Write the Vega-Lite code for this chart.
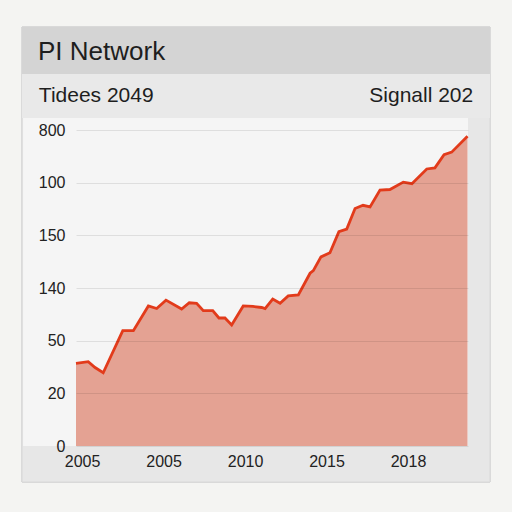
{
  "$schema": "https://vega.github.io/schema/vega-lite/v6.json",
  "width": 392,
  "height": 316,
  "autosize": {"type": "none"},
  "padding": {"left": 76, "top": 130, "right": 44, "bottom": 66},
  "background": "#f4f4f2",
  "config": {
    "view": {"stroke": null},
    "font": "Liberation Sans",
    "axis": {"labelFont": "Liberation Sans"}
  },
  "data": {
    "values": [
      {"year": 1999.63, "value": 1.57},
      {"year": 2000.38, "value": 1.60},
      {"year": 2000.80, "value": 1.49},
      {"year": 2001.30, "value": 1.39},
      {"year": 2002.50, "value": 2.19},
      {"year": 2003.15, "value": 2.19},
      {"year": 2004.07, "value": 2.66},
      {"year": 2004.58, "value": 2.61},
      {"year": 2005.15, "value": 2.77},
      {"year": 2006.11, "value": 2.60},
      {"year": 2006.58, "value": 2.72},
      {"year": 2007.03, "value": 2.71},
      {"year": 2007.44, "value": 2.57},
      {"year": 2008.02, "value": 2.57},
      {"year": 2008.40, "value": 2.43},
      {"year": 2008.77, "value": 2.43},
      {"year": 2009.18, "value": 2.30},
      {"year": 2009.89, "value": 2.66},
      {"year": 2010.49, "value": 2.65},
      {"year": 2011.02, "value": 2.63},
      {"year": 2011.23, "value": 2.61},
      {"year": 2011.70, "value": 2.79},
      {"year": 2012.15, "value": 2.71},
      {"year": 2012.65, "value": 2.85},
      {"year": 2013.27, "value": 2.87},
      {"year": 2013.99, "value": 3.28},
      {"year": 2014.19, "value": 3.33},
      {"year": 2014.66, "value": 3.59},
      {"year": 2015.21, "value": 3.67},
      {"year": 2015.76, "value": 4.07},
      {"year": 2016.24, "value": 4.12},
      {"year": 2016.75, "value": 4.51},
      {"year": 2017.24, "value": 4.57},
      {"year": 2017.67, "value": 4.54},
      {"year": 2018.28, "value": 4.86},
      {"year": 2018.89, "value": 4.87},
      {"year": 2019.71, "value": 5.01},
      {"year": 2020.24, "value": 4.98},
      {"year": 2021.15, "value": 5.26},
      {"year": 2021.65, "value": 5.28},
      {"year": 2022.21, "value": 5.53},
      {"year": 2022.68, "value": 5.58},
      {"year": 2023.65, "value": 5.88}
    ]
  },
  "layer": [
    {
      "mark": {"type": "rect", "fill": "#e7e7e7", "stroke": "#d9d9d9", "strokeWidth": 1, "clip": false},
      "encoding": {
        "x": {"datum": 1996.32, "type": "quantitative", "title": null},
        "x2": {"datum": 2025.03},
        "y": {"datum": -0.683, "type": "quantitative", "title": null},
        "y2": {"datum": 7.955}
      }
    },
    {
      "mark": {"type": "rect", "fill": "#f5f5f5", "clip": false},
      "encoding": {
        "x": {"datum": 1996.4, "type": "quantitative", "title": null},
        "x2": {"datum": 2023.68},
        "y": {"datum": 0, "type": "quantitative", "title": null},
        "y2": {"datum": 6.227}
      }
    },
    {
      "mark": {"type": "rect", "fill": "#e9e9e9", "clip": false},
      "encoding": {
        "x": {"datum": 1996.32, "type": "quantitative", "title": null},
        "x2": {"datum": 2025.03},
        "y": {"datum": 6.227, "type": "quantitative", "title": null},
        "y2": {"datum": 7.063}
      }
    },
    {
      "mark": {"type": "rect", "fill": "#d4d4d4", "clip": false},
      "encoding": {
        "x": {"datum": 1996.32, "type": "quantitative", "title": null},
        "x2": {"datum": 2025.03},
        "y": {"datum": 7.063, "type": "quantitative", "title": null},
        "y2": {"datum": 7.955}
      }
    },
    {
      "mark": {
        "type": "area",
        "color": "#e4a293",
        "opacity": 1,
        "line": {"color": "#e23b1b", "strokeWidth": 2.8, "strokeJoin": "miter"}
      },
      "encoding": {
        "x": {
          "field": "year",
          "type": "quantitative",
          "scale": {"domain": [1999.63, 2023.68], "nice": false, "zero": false},
          "axis": {
            "title": null,
            "values": [2000, 2005, 2010, 2015, 2020],
            "labelExpr": "{'2000':'2005','2005':'2005','2010':'2010','2015':'2015','2020':'2018'}[datum.value]",
            "grid": false,
            "domain": false,
            "ticks": false,
            "labelFontSize": 16,
            "labelColor": "#222222",
            "labelPadding": 7,
            "zindex": 1
          }
        },
        "y": {
          "field": "value",
          "type": "quantitative",
          "scale": {"domain": [0, 6], "nice": false},
          "axis": {
            "title": null,
            "values": [0, 1, 2, 3, 4, 5, 6],
            "labelExpr": "['0','20','50','140','150','100','800'][datum.value]",
            "domain": false,
            "ticks": false,
            "grid": true,
            "gridColor": "#000000",
            "gridOpacity": 0.09,
            "gridWidth": 1,
            "labelFontSize": 16,
            "labelColor": "#222222",
            "labelPadding": 11,
            "zindex": 1
          }
        }
      }
    },
    {
      "data": {"values": [{"label": "PI Network"}]},
      "mark": {"type": "text", "align": "left", "baseline": "alphabetic", "fontSize": 26, "color": "#1e1e1e", "clip": false},
      "encoding": {
        "x": {"datum": 1997.3, "type": "quantitative", "title": null},
        "y": {"datum": 7.329, "type": "quantitative", "title": null},
        "text": {"field": "label"}
      }
    },
    {
      "data": {"values": [{"label": "Tidees 2049"}]},
      "mark": {"type": "text", "align": "left", "baseline": "alphabetic", "fontSize": 21, "color": "#1e1e1e", "clip": false},
      "encoding": {
        "x": {"datum": 1997.35, "type": "quantitative", "title": null},
        "y": {"datum": 6.537, "type": "quantitative", "title": null},
        "text": {"field": "label"}
      }
    },
    {
      "data": {"values": [{"label": "Signall 202"}]},
      "mark": {"type": "text", "align": "right", "baseline": "alphabetic", "fontSize": 21, "color": "#1e1e1e", "clip": false},
      "encoding": {
        "x": {"datum": 2024.0, "type": "quantitative", "title": null},
        "y": {"datum": 6.537, "type": "quantitative", "title": null},
        "text": {"field": "label"}
      }
    }
  ]
}
